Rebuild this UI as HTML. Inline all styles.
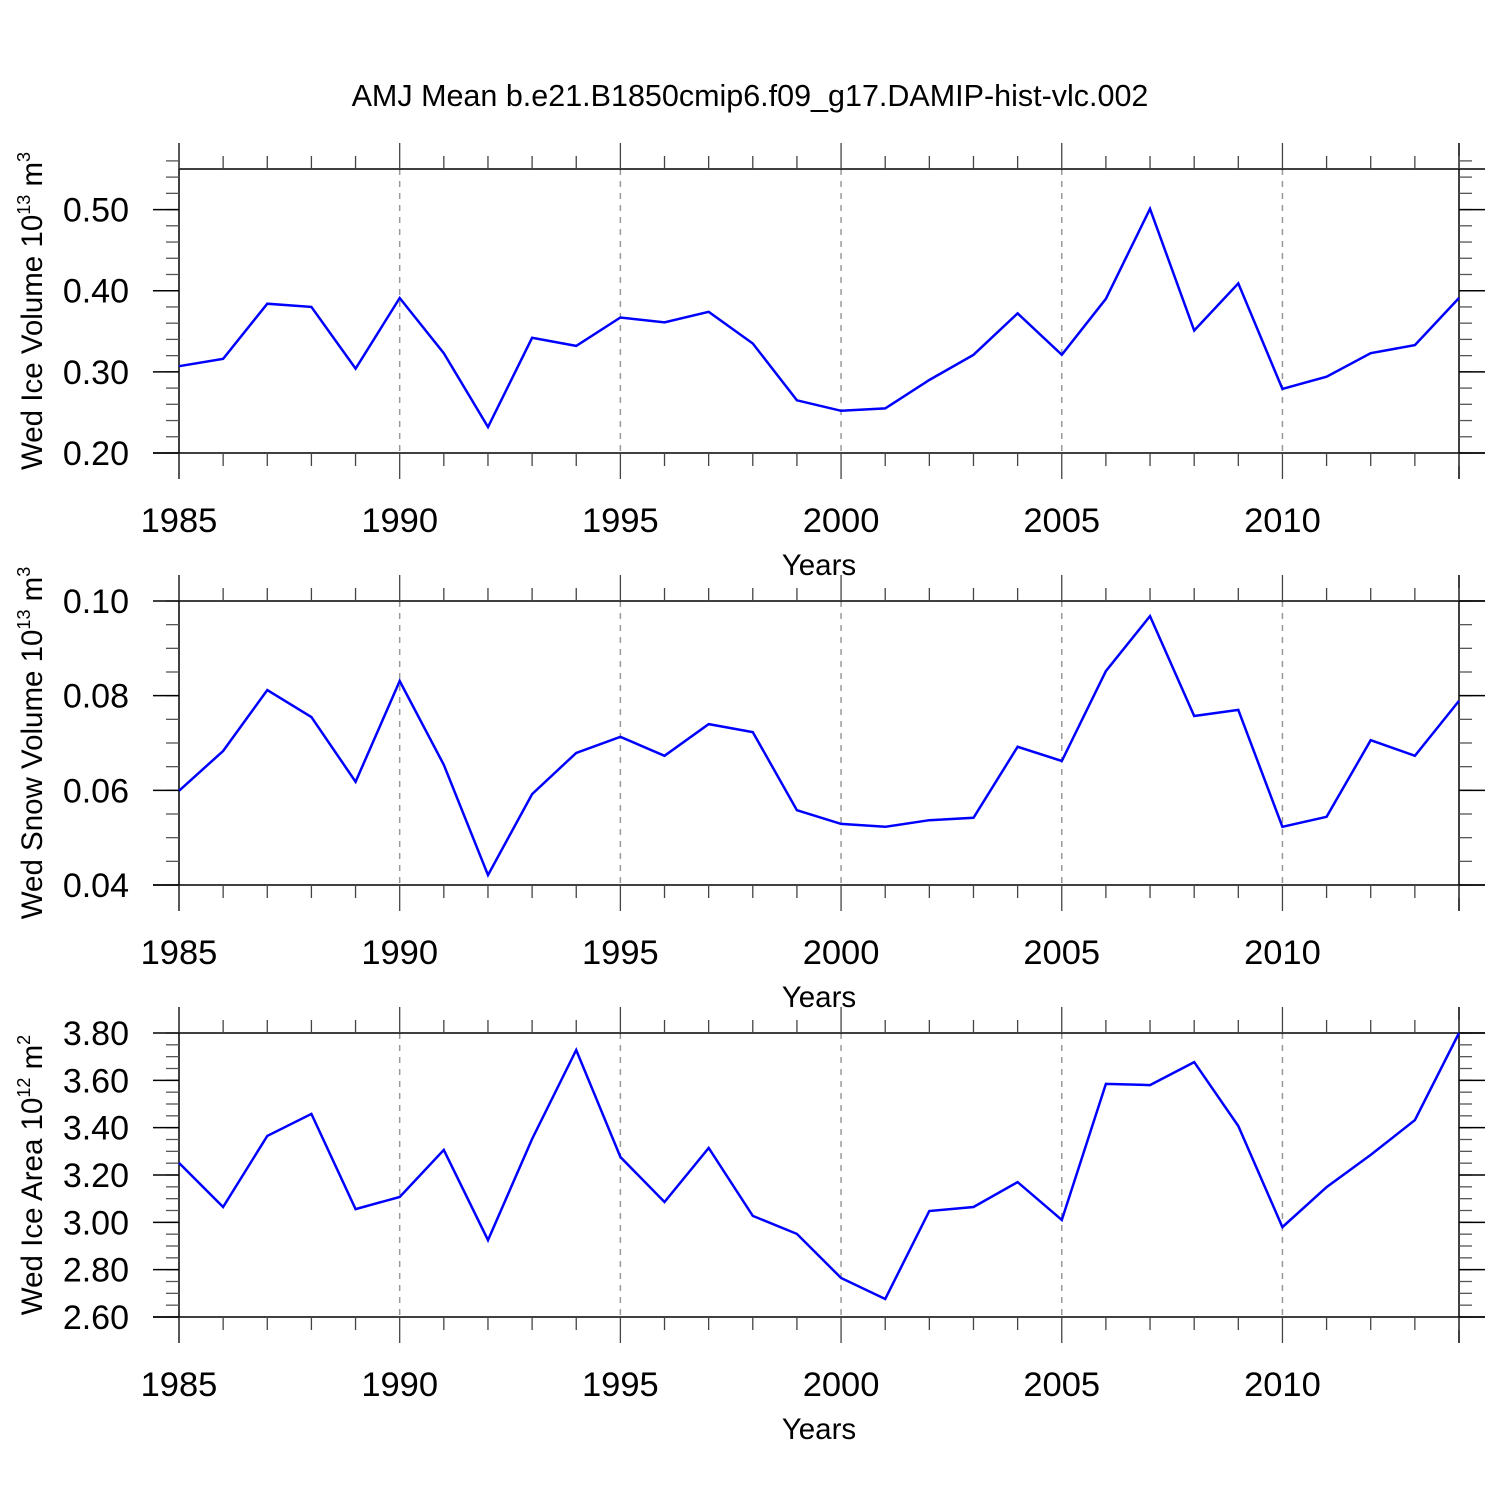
<!DOCTYPE html>
<html><head><meta charset="utf-8"><style>
html,body{margin:0;padding:0;background:#fff;}
svg{display:block;font-family:"Liberation Sans",Arial,sans-serif;}
</style></head><body>
<svg id="chart" width="1500" height="1500" viewBox="0 0 1500 1500" xmlns="http://www.w3.org/2000/svg">
<rect width="1500" height="1500" fill="#fff"/>
<text x="750" y="106" font-size="30.5" text-anchor="middle">AMJ Mean b.e21.B1850cmip6.f09_g17.DAMIP-hist-vlc.002</text>
</svg>
<script>
const years = [1985,1986,1987,1988,1989,1990,1991,1992,1993,1994,1995,1996,1997,1998,1999,2000,2001,2002,2003,2004,2005,2006,2007,2008,2009,2010,2011,2012,2013,2014];
const iceVolume = [0.307,0.316,0.384,0.380,0.304,0.391,0.323,0.232,0.342,0.332,0.367,0.361,0.374,0.335,0.265,0.252,0.255,0.290,0.321,0.372,0.321,0.390,0.501,0.351,0.409,0.279,0.294,0.323,0.333,0.391];
const snowVolume = [0.0599,0.0683,0.0812,0.0755,0.0618,0.0831,0.0654,0.0421,0.0592,0.0679,0.0713,0.0673,0.0740,0.0723,0.0558,0.0529,0.0523,0.0537,0.0542,0.0692,0.0662,0.0852,0.0968,0.0757,0.0770,0.0523,0.0544,0.0706,0.0673,0.0789];
const iceArea = [3.251,3.065,3.365,3.458,3.056,3.107,3.306,2.925,3.352,3.728,3.276,3.086,3.314,3.027,2.951,2.765,2.676,3.048,3.065,3.170,3.010,3.585,3.580,3.677,3.407,2.980,3.149,3.285,3.432,3.800];
const xTickLabels = ["1985","1990","1995","2000","2005","2010"];
const iceVolumeTicks = ["0.20","0.30","0.40","0.50"];
const snowVolumeTicks = ["0.04","0.06","0.08","0.10"];
const iceAreaTicks = ["2.60","2.80","3.00","3.20","3.40","3.60","3.80"];

const NS = "http://www.w3.org/2000/svg";
const svg = document.getElementById('chart');
function mk(tag, attrs, parent){ const e=document.createElementNS(NS,tag); for(const k in attrs) e.setAttribute(k,attrs[k]); (parent||svg).appendChild(e); return e; }

const panels = [
  {name:'ice-volume', data:iceVolume, ticks:iceVolumeTicks, top:169, ymin:0.2, ymax:0.55, minor:0.02, label:['Wed Ice Volume 10','13',' m','3']},
  {name:'snow-volume', data:snowVolume, ticks:snowVolumeTicks, top:601, ymin:0.04, ymax:0.10, minor:0.005, label:['Wed Snow Volume 10','13',' m','3']},
  {name:'ice-area', data:iceArea, ticks:iceAreaTicks, top:1033, ymin:2.6, ymax:3.8, minor:0.05, label:['Wed Ice Area 10','12',' m','2']}
];
const X0=179, X1=1459, H=284;
const xs = yr => X0 + (yr-1985)*(X1-X0)/29;

panels.forEach(p=>{
  const g = mk('g',{});
  
  
  const top=p.top, bot=p.top+H;
  const ys = v => bot - (v-p.ymin)/(p.ymax-p.ymin)*H;
  for(let yr=1990; yr<2014; yr+=5){
    const l=mk('line',{x1:xs(yr),x2:xs(yr),y1:top,y2:bot,stroke:'#999','stroke-width':1.5,'stroke-dasharray':'6,6'},g);
    
    
  }
  mk('line',{x1:X0,x2:X1+26,y1:top,y2:top,stroke:'#000','stroke-width':1.5},g);
  mk('line',{x1:X0-26,x2:X1+26,y1:bot,y2:bot,stroke:'#000','stroke-width':1.5},g);
  mk('line',{x1:X0,x2:X0,y1:top-26,y2:bot+26,stroke:'#000','stroke-width':1.5},g);
  mk('line',{x1:X1,x2:X1,y1:top-26,y2:bot+26,stroke:'#000','stroke-width':1.5},g);
  for(let yr=1985; yr<=2014; yr++){
    const major = (yr%5===0);
    const len = major?26:13;
    mk('line',{x1:xs(yr),x2:xs(yr),y1:top,y2:top-len,stroke:'#444','stroke-width':1.3},g);
    mk('line',{x1:xs(yr),x2:xs(yr),y1:bot,y2:bot+len,stroke:'#444','stroke-width':1.3},g);
  }
  xTickLabels.forEach(t=>{
    const tx=mk('text',{x:xs(+t),y:bot+79,'font-size':34.5,'text-anchor':'middle'},g);
    tx.textContent=t;
    
    
  });
  const xt=mk('text',{x:819,y:bot+122,'font-size':29.5,'text-anchor':'middle'},g);
  xt.textContent='Years';
  
  
  const n=Math.round((p.ymax-p.ymin)/p.minor);
  for(let i=0;i<=n;i++){
    const y=ys(p.ymin+i*p.minor);
    mk('line',{x1:X0,x2:X0-13,y1:y,y2:y,stroke:'#555','stroke-width':1.3},g);
    mk('line',{x1:X1,x2:X1+13,y1:y,y2:y,stroke:'#555','stroke-width':1.3},g);
  }
  p.ticks.forEach(t=>{
    const y=ys(+t);
    mk('line',{x1:X0,x2:X0-26,y1:y,y2:y,stroke:'#000','stroke-width':1.5},g);
    mk('line',{x1:X1,x2:X1+26,y1:y,y2:y,stroke:'#000','stroke-width':1.5},g);
    const tx=mk('text',{x:129,y:y+12,'font-size':34,'text-anchor':'end'},g);
    tx.textContent=t;
    
    
  });
  const cy=(top+bot)/2;
  const yt=mk('text',{x:0,y:0,'font-size':29.5,'text-anchor':'middle',transform:`translate(42,${cy}) rotate(-90)`},g);
  
  
  const a=mk('tspan',{},yt); a.textContent=p.label[0];
  const b=mk('tspan',{dy:-12,'font-size':18},yt); b.textContent=p.label[1];
  const c=mk('tspan',{dy:12},yt); c.textContent=p.label[2];
  const d=mk('tspan',{dy:-12,'font-size':18},yt); d.textContent=p.label[3];
  const pts = p.data.map((v,i)=>xs(years[i]).toFixed(1)+','+ys(v).toFixed(1)).join(' ');
  const pl=mk('polyline',{points:pts,fill:'none',stroke:'#0000ff','stroke-width':2.5,'stroke-linejoin':'miter'},g);
  
  
});
</script>
</body></html>
